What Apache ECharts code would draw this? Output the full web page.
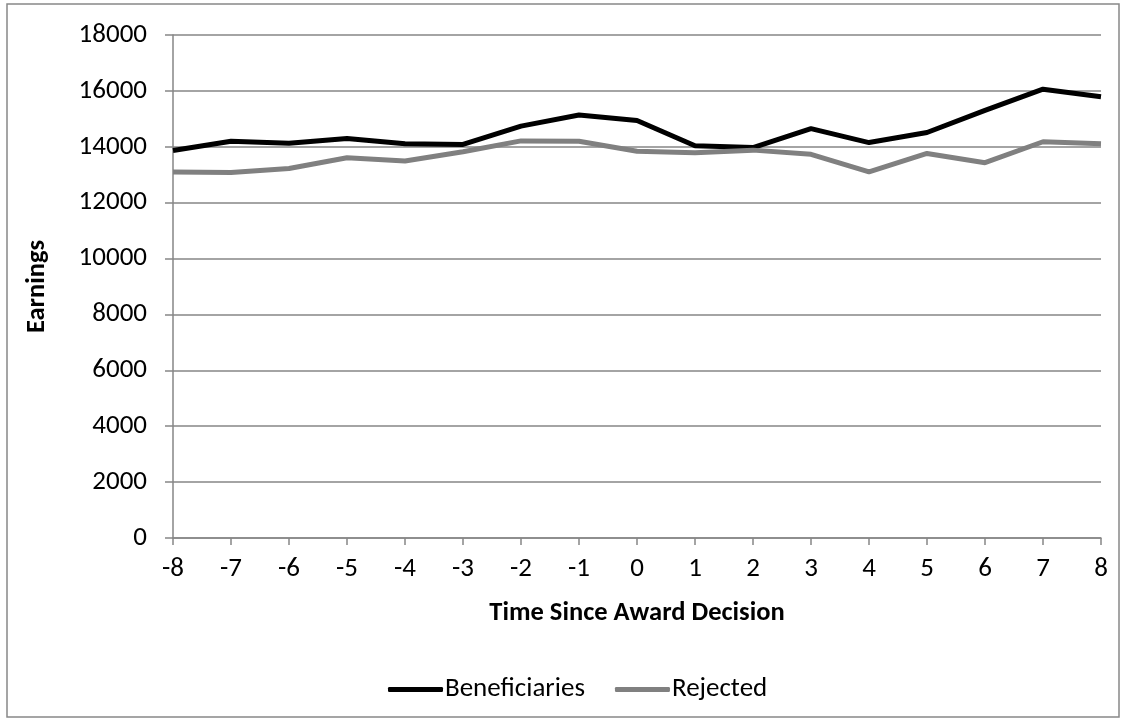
<!DOCTYPE html>
<html>
<head>
<meta charset="utf-8">
<script src="https://cdn.jsdelivr.net/npm/echarts@6/dist/echarts.min.js"></script>
<style>
html,body{margin:0;padding:0;background:#fff;}
#c{width:1126px;height:723px;}
</style>
</head>
<body>
<div id="c"></div>
<script>
const categories = ['-8','-7','-6','-5','-4','-3','-2','-1','0','1','2','3','4','5','6','7','8'];
const beneficiaries = [13870,14200,14130,14300,14110,14085,14740,15140,14940,14035,13970,14650,14150,14510,15300,16060,15790];
const rejected = [13100,13080,13220,13610,13490,13820,14210,14200,13840,13790,13880,13730,13100,13760,13430,14180,14110];
const yTicks = {min:0, max:18000, interval:2000};

const FONT = 'Carlito, Lato, "Open Sans", sans-serif';
const chart = echarts.init(document.getElementById('c'));
chart.setOption({
  animation:false,
  backgroundColor:'#fff',
  graphic:[{type:'rect',shape:{x:7,y:4,width:1112,height:713},style:{fill:null,stroke:'#888',lineWidth:1.5},silent:true}],
  grid:{left:173,right:25,top:35,bottom:185},
  legend:{
    top:671,left:383,
    icon:'roundRect',
    itemWidth:55,itemHeight:5,itemGap:30,
    textStyle:{fontFamily:FONT,fontSize:27,color:'#000',padding:[0,0,0,-3]},
    data:[{name:'Beneficiaries'},{name:'Rejected'}]
  },
  xAxis:{
    type:'category',data:categories,boundaryGap:false,
    name:'Time Since Award Decision',nameLocation:'middle',nameGap:62,
    nameTextStyle:{fontFamily:FONT,fontSize:26.5,fontWeight:'bold',color:'#000'},
    axisLine:{lineStyle:{color:'#868686',width:1.5}},
    axisTick:{show:true,length:7,lineStyle:{color:'#868686',width:1.5}},
    axisLabel:{fontFamily:FONT,fontSize:27,color:'#000',margin:18},
    splitLine:{show:false}
  },
  yAxis:{
    type:'value',min:yTicks.min,max:yTicks.max,interval:yTicks.interval,
    name:'Earnings',nameLocation:'middle',nameGap:122,nameRotate:90,
    nameTextStyle:{fontFamily:FONT,fontSize:26.5,fontWeight:'bold',color:'#000'},
    axisLine:{show:true,lineStyle:{color:'#868686',width:1.5}},
    axisTick:{show:true,length:8,lineStyle:{color:'#868686',width:1.5}},
    axisLabel:{fontFamily:FONT,fontSize:27,color:'#000',margin:26,formatter:v=>String(v)},
    splitLine:{lineStyle:{color:'#868686',width:1.5}}
  },
  series:[
    {name:'Beneficiaries',type:'line',data:beneficiaries,symbol:'none',lineStyle:{color:'#000',width:5},itemStyle:{color:'#000'}},
    {name:'Rejected',type:'line',data:rejected,symbol:'none',lineStyle:{color:'#808080',width:5},itemStyle:{color:'#808080'}}
  ]
});
</script>
</body>
</html>
